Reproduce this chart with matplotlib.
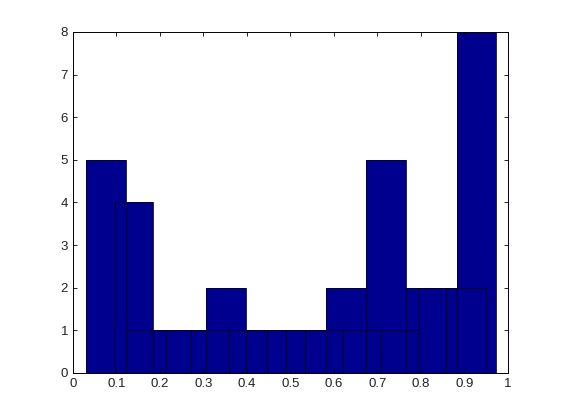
import matplotlib
matplotlib.use('Agg')
import matplotlib.pyplot as plt
import numpy as np

# two overlaid 10-bin histograms (counts per bin)
edges_a = np.linspace(0.030, 0.950, 11)
counts_a = [5, 1, 1, 2, 1, 1, 2, 5, 2, 2]
edges_b = np.linspace(0.097, 0.972, 11)
counts_b = [4, 1, 1, 1, 1, 1, 1, 1, 2, 8]

face = (0, 0, 0.5625)

fig = plt.figure(figsize=(5.61, 4.2), dpi=100)
ax = fig.add_axes([0.13, 0.112, 0.775, 0.812])

layers = [(edges_a, counts_a), (edges_b, counts_b)]
# faces first, then the outlines on top (looks like the matlab render)
for edges, counts in layers:
    ax.bar(edges[:-1], counts, width=np.diff(edges), align='edge',
           color=face, edgecolor='none', linewidth=0)
for edges, counts in layers:
    ax.bar(edges[:-1], counts, width=np.diff(edges), align='edge',
           facecolor='none', edgecolor='#00001a', linewidth=0.6)

ax.set_xlim(0, 1)
ax.set_ylim(0, 8)
ax.set_xticks(np.arange(0, 1.01, 0.1))
ax.set_xticklabels(['0', '0.1', '0.2', '0.3', '0.4', '0.5', '0.6', '0.7', '0.8', '0.9', '1'])
ax.set_yticks(range(0, 9))
ax.tick_params(direction='in', top=True, right=True, length=3, labelsize=9.5,
               width=0.6, labelcolor='#222222')
for lbl in ax.get_xticklabels() + ax.get_yticklabels():
    lbl.set_fontfamily('Liberation Sans')
for s in ax.spines.values():
    s.set_linewidth(0.7)

fig.savefig('out.png', dpi=100)
